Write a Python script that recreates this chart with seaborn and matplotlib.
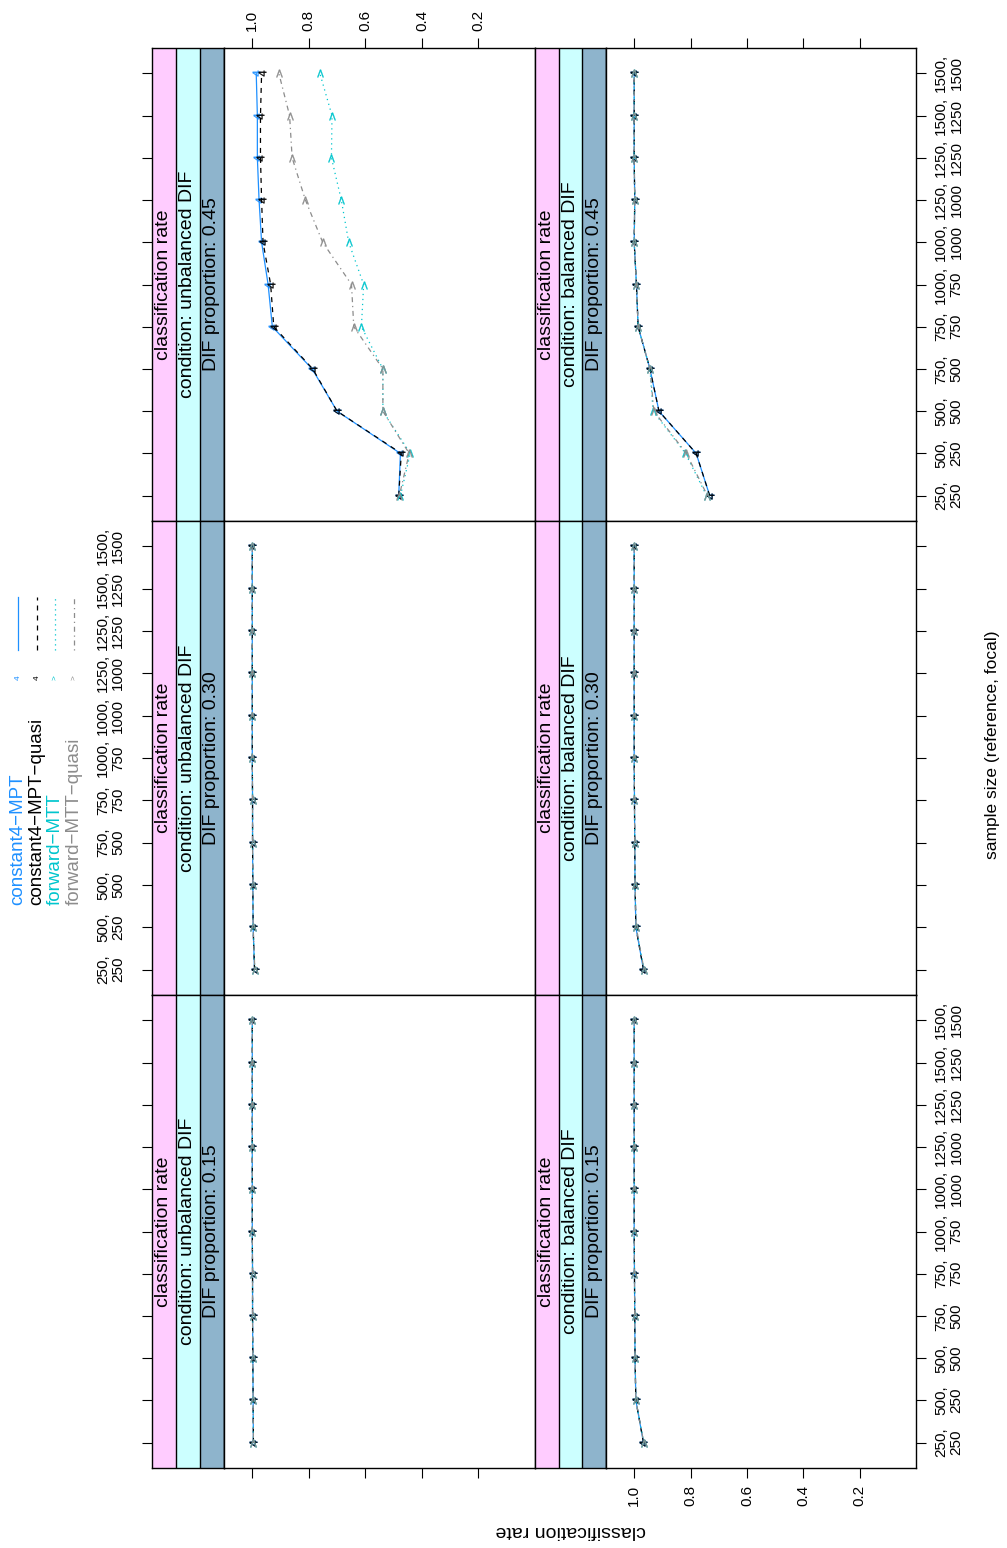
import numpy as np
import pandas as pd
import matplotlib
matplotlib.use("Agg")
import matplotlib.pyplot as plt
import seaborn as sns
from matplotlib.lines import Line2D
from matplotlib.markers import MarkerStyle
from matplotlib.transforms import Affine2D

# ---- data -------------------------------------------------------------
sample_sizes = ["250,\n250", "500,\n250", "500,\n500", "750,\n500", "750,\n750",
                "1000,\n750", "1000,\n1000", "1250,\n1000", "1250,\n1250",
                "1500,\n1250", "1500,\n1500"]
methods = ["constant4\u2212MPT", "constant4\u2212MPT\u2212quasi",
           "forward\u2212MTT", "forward\u2212MTT\u2212quasi"]
conditions = ["unbalanced DIF", "balanced DIF"]
proportions = ["0.45", "0.30", "0.15"]

# classification rates, one value per sample size (in the order above)
unb_45_c4 = [0.482, 0.476, 0.700, 0.788, 0.929, 0.944, 0.967, 0.976, 0.982, 0.982, 0.986]
unb_45_c4q = [0.482, 0.473, 0.700, 0.786, 0.924, 0.935, 0.962, 0.967, 0.971, 0.971, 0.967]
unb_45_fw = [0.476, 0.441, 0.538, 0.538, 0.614, 0.606, 0.659, 0.685, 0.720, 0.718, 0.761]
unb_45_fwq = [0.480, 0.445, 0.538, 0.538, 0.641, 0.649, 0.751, 0.812, 0.859, 0.868, 0.906]

unb_30_c4 = [0.992, 0.997, 0.998, 0.999, 0.999, 1.000, 1.000, 1.000, 1.000, 1.000, 1.000]
unb_30_c4q = [0.992, 0.997, 0.998, 0.999, 0.999, 1.000, 1.000, 1.000, 1.000, 1.000, 1.000]
unb_30_fw = [0.991, 0.997, 0.998, 0.999, 0.999, 1.000, 1.000, 1.000, 1.000, 1.000, 1.000]
unb_30_fwq = [0.991, 0.997, 0.998, 0.999, 0.999, 1.000, 1.000, 1.000, 1.000, 1.000, 1.000]

unb_15_c4 = [0.996, 0.997, 0.998, 0.999, 0.999, 1.000, 1.000, 1.000, 1.000, 1.000, 1.000]
unb_15_c4q = [0.996, 0.997, 0.998, 0.999, 0.999, 1.000, 1.000, 1.000, 1.000, 1.000, 1.000]
unb_15_fw = [0.996, 0.997, 0.998, 0.999, 0.999, 1.000, 1.000, 1.000, 1.000, 1.000, 1.000]
unb_15_fwq = [0.996, 0.997, 0.998, 0.999, 0.999, 1.000, 1.000, 1.000, 1.000, 1.000, 1.000]

bal_45_c4 = [0.732, 0.780, 0.912, 0.944, 0.986, 0.992, 1.000, 0.998, 1.000, 1.000, 1.000]
bal_45_c4q = [0.732, 0.780, 0.912, 0.944, 0.986, 0.992, 1.000, 0.998, 1.000, 1.000, 1.000]
bal_45_fw = [0.743, 0.818, 0.933, 0.944, 0.986, 0.992, 1.000, 0.998, 1.000, 1.000, 1.000]
bal_45_fwq = [0.740, 0.815, 0.930, 0.944, 0.986, 0.992, 1.000, 0.998, 1.000, 1.000, 1.000]

bal_30_c4 = [0.967, 0.994, 0.997, 0.998, 0.999, 1.000, 1.000, 1.000, 1.000, 1.000, 1.000]
bal_30_c4q = [0.967, 0.994, 0.997, 0.998, 0.999, 1.000, 1.000, 1.000, 1.000, 1.000, 1.000]
bal_30_fw = [0.965, 0.993, 0.997, 0.998, 0.999, 1.000, 1.000, 1.000, 1.000, 1.000, 1.000]
bal_30_fwq = [0.965, 0.993, 0.997, 0.998, 0.999, 1.000, 1.000, 1.000, 1.000, 1.000, 1.000]

bal_15_c4 = [0.967, 0.994, 0.997, 0.998, 0.999, 1.000, 1.000, 1.000, 1.000, 1.000, 1.000]
bal_15_c4q = [0.967, 0.994, 0.997, 0.998, 0.999, 1.000, 1.000, 1.000, 1.000, 1.000, 1.000]
bal_15_fw = [0.966, 0.994, 0.997, 0.998, 0.999, 1.000, 1.000, 1.000, 1.000, 1.000, 1.000]
bal_15_fwq = [0.966, 0.994, 0.997, 0.998, 0.999, 1.000, 1.000, 1.000, 1.000, 1.000, 1.000]

rate_ticks = [0.2, 0.4, 0.6, 0.8, 1.0]
rate_tick_labels = ["0.2", "0.4", "0.6", "0.8", "1.0"]

series = {
    ("unbalanced DIF", "0.45"): [unb_45_c4, unb_45_c4q, unb_45_fw, unb_45_fwq],
    ("unbalanced DIF", "0.30"): [unb_30_c4, unb_30_c4q, unb_30_fw, unb_30_fwq],
    ("unbalanced DIF", "0.15"): [unb_15_c4, unb_15_c4q, unb_15_fw, unb_15_fwq],
    ("balanced DIF", "0.45"): [bal_45_c4, bal_45_c4q, bal_45_fw, bal_45_fwq],
    ("balanced DIF", "0.30"): [bal_30_c4, bal_30_c4q, bal_30_fw, bal_30_fwq],
    ("balanced DIF", "0.15"): [bal_15_c4, bal_15_c4q, bal_15_fw, bal_15_fwq],
}

records = []
for (cond, prop), vals in series.items():
    for m, v in zip(methods, vals):
        for i, r in enumerate(v):
            records.append({"condition": cond, "proportion": prop, "method": m,
                            "pos": float(i), "rate": r})
df = pd.DataFrame(records)

# ---- styling ----------------------------------------------------------
plt.rcParams["font.family"] = ["Liberation Sans", "DejaVu Sans"]
plt.rcParams["axes.linewidth"] = 1.0

palette = dict(zip(methods, ["#1E90FF", "#000000", "#00C5CD", "#8C8C8C"]))
dashes = dict(zip(methods, ["", (4, 4), (1, 3), (1, 3, 4, 3)]))
rot = Affine2D().rotate_deg(90)
markers = dict(zip(methods, [MarkerStyle("$4$", transform=rot),
                             MarkerStyle("$4$", transform=rot),
                             MarkerStyle("$>$", transform=rot),
                             MarkerStyle("$>$", transform=rot)]))
strip_cols = ["#FFCCFF", "#CCFFFF", "#8EB4CC"]

W, H = 1007, 1548
fig = plt.figure(figsize=(W / 100, H / 100), dpi=100)


def rect(x0, y0, x1, y1):
    return [x0 / W, 1 - y1 / H, (x1 - x0) / W, (y1 - y0) / H]


rows = [(48, 521), (521, 995), (995, 1468)]
col_strip = [(152, 224), (535, 606)]
col_data = [(224, 535), (606, 916)]
ylim = (-0.6, 10.6)
TICK = 10
FS_TICK = 11
FS_STRIP = 14

for ri, (prop, (y0, y1)) in enumerate(zip(proportions, rows)):
    for ci, cond in enumerate(conditions):
        # strips
        sx0, sx1 = col_strip[ci]
        sax = fig.add_axes(rect(sx0, y0, sx1, y1))
        sax.set_xlim(0, 3)
        sax.set_ylim(*ylim)
        strip_texts = ["classification rate", f"condition: {cond}",
                       f"DIF proportion: {prop}"]
        for k in range(3):
            sax.axvspan(k, k + 1, color=strip_cols[k], lw=0)
            sax.text(k + 0.5, 5.0, strip_texts[k], rotation=90, ha="center",
                     va="center", fontsize=FS_STRIP)
        for k in (1, 2, 3):
            sax.axvline(k, color="black", lw=1.0)
        sax.set_xticks([])
        if ci == 0:
            sax.set_yticks(range(len(sample_sizes)))
            sax.tick_params(axis="y", direction="out", length=TICK * 0.72,
                            width=0.8, left=True, right=False,
                            labelleft=(ri == 1), pad=12)
            sax.set_yticklabels(sample_sizes, rotation=90, va="center",
                                ha="right", multialignment="center",
                                fontsize=FS_TICK, linespacing=1.1)
        else:
            sax.set_yticks([])

        # panel
        dx0, dx1 = col_data[ci]
        ax = fig.add_axes(rect(dx0, y0, dx1, y1))
        sub = df[(df["condition"] == cond) & (df["proportion"] == prop)]
        sns.lineplot(data=sub, x="rate", y="pos", hue="method", style="method",
                     hue_order=methods, style_order=methods, palette=palette,
                     dashes=dashes, markers=markers, estimator=None, sort=False,
                     orient="y", lw=0.9, ms=5.5, legend=False, ax=ax)
        for ln in ax.lines:
            c = ln.get_color()
            ln.set_markerfacecolor(c)
            ln.set_markeredgecolor(c)
            ln.set_markeredgewidth(0.2)
        ax.set_xlim(1.1, 0)
        ax.set_ylim(*ylim)
        ax.set_xlabel("")
        ax.set_ylabel("")
        ax.set_facecolor("white")
        for s in ax.spines.values():
            s.set_color("black")
            s.set_linewidth(1.0)

        ax.set_xticks(rate_ticks)
        ax.set_xticklabels(rate_tick_labels, rotation=90, fontsize=FS_TICK)
        ax.tick_params(axis="x", direction="out", length=TICK * 0.72, width=0.8,
                       top=(ri == 0), bottom=(ri == 2),
                       labeltop=(ri == 0 and ci == 0),
                       labelbottom=(ri == 2 and ci == 1), pad=5)

        ax.set_yticks(range(len(sample_sizes)))
        ax.set_yticklabels(sample_sizes, rotation=90, va="center", ha="left",
                           multialignment="center", fontsize=FS_TICK,
                           linespacing=1.1)
        ax.tick_params(axis="y", direction="out", length=TICK * 0.72, width=0.8,
                       left=False, right=(ci == 1), labelleft=False,
                       labelright=(ci == 1 and ri != 1), pad=6)

# legend (key above the panels)
key_x = [18, 37, 55, 74]
for x, m in zip(key_x, methods):
    c = palette[m]
    fig.text(x / W, 1 - 905 / H, m, rotation=90, color=c, ha="center",
             va="bottom", fontsize=13.5)
    glyph = "4" if "constant" in m else ">"
    fig.text(x / W, 1 - 678 / H, glyph, rotation=90, color=c, ha="center",
             va="center", fontsize=6)
    fig.add_artist(Line2D([x / W, x / W], [1 - 650 / H, 1 - 597 / H],
                          transform=fig.transFigure, color=c, lw=0.9,
                          dashes=dashes[m] if dashes[m] else (None, None)))

fig.text(993 / W, 1 - 745 / H, "sample size (reference, focal)", rotation=90,
         ha="center", va="center", fontsize=12.5)
fig.text(571 / W, 1 - 1530 / H, "classification rate", rotation=180,
         ha="center", va="center", fontsize=14)

fig.savefig("out.png", dpi=100, facecolor="white")
